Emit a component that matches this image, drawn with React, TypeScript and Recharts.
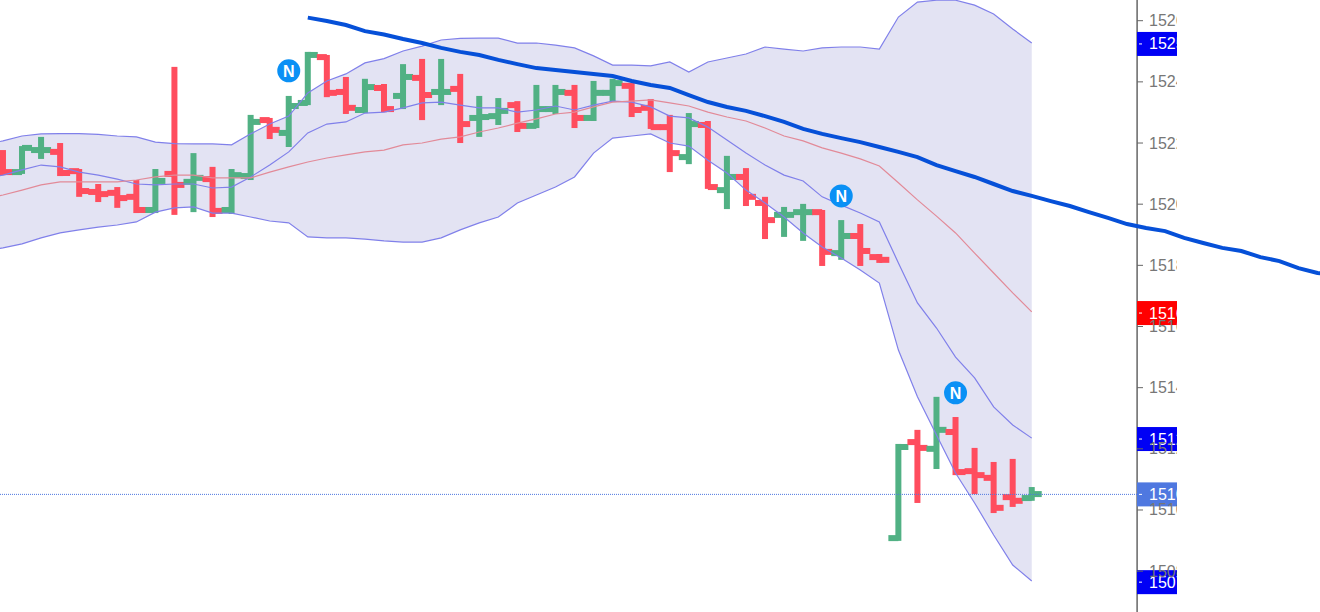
import React from "react";
import {
  Area,
  Bar,
  ComposedChart,
  Line,
  ReferenceDot,
  ReferenceLine,
  XAxis,
  YAxis,
} from "recharts";

const axisTicks = [15260, 15240, 15220, 15200, 15180, 15160, 15140, 15120, 15100, 15080];

// sessions 0..54
const opens = [
  15214.5, 15210.5, 15217.7, 15217.1, 15210.8, 15204.0, 15203.7, 15202.4, 15198.1, 15209.9, 15207.3,
  15208.2, 15198.1, 15209.2, 15227.5, 15223.3, 15233.1, 15248.1, 15236.7, 15230.8, 15238.0, 15235.4,
  15241.3, 15236.7, 15237.7, 15228.2, 15228.8, 15232.4, 15225.6, 15231.1, 15236.4, 15228.2, 15236.4,
  15238.7, 15231.5, 15225.2, 15215.4, 15225.9, 15204.6, 15208.9, 15200.4, 15196.5, 15197.4, 15197.4,
  15184.0, 15189.6, 15182.7, 15090.8, 15122.2, 15120.0, 15125.5, 15112.7, 15110.5, 15104.2, 15103.9,
];
const highs = [
  15217.7, 15219.0, 15222.0, 15220.0, 15211.5, 15206.6, 15205.6, 15207.9, 15211.5, 15244.9, 15216.7,
  15212.2, 15211.5, 15229.2, 15228.2, 15235.4, 15249.8, 15248.8, 15241.6, 15241.0, 15239.3, 15245.8,
  15247.5, 15247.5, 15242.6, 15235.4, 15234.7, 15233.7, 15239.0, 15239.0, 15239.0, 15240.3, 15241.0,
  15239.6, 15234.4, 15229.2, 15229.8, 15227.2, 15215.8, 15211.8, 15202.4, 15199.1, 15200.1, 15198.1,
  15194.8, 15193.5, 15183.7, 15121.6, 15126.2, 15137.0, 15130.4, 15120.3, 15115.7, 15116.7, 15107.5,
];
const lows = [
  15209.5, 15209.9, 15214.8, 15209.2, 15202.4, 15200.7, 15198.8, 15197.1, 15197.1, 15196.5, 15197.4,
  15195.8, 15196.8, 15207.9, 15221.3, 15218.7, 15232.4, 15235.0, 15229.5, 15229.8, 15230.1, 15231.1,
  15227.5, 15232.4, 15220.0, 15222.0, 15225.9, 15223.6, 15224.9, 15229.5, 15224.9, 15227.2, 15233.4,
  15228.5, 15224.6, 15210.5, 15213.1, 15205.0, 15198.4, 15199.4, 15188.6, 15189.3, 15188.0, 15179.8,
  15181.8, 15179.8, 15180.8, 15089.9, 15102.3, 15113.4, 15111.4, 15105.2, 15099.0, 15101.0, 15103.0,
];
const closes = [
  15210.5, 15218.4, 15217.7, 15210.2, 15204.3, 15203.3, 15202.0, 15198.1, 15207.6, 15206.3, 15208.6,
  15197.8, 15209.5, 15226.9, 15224.3, 15232.1, 15248.8, 15236.4, 15231.5, 15238.3, 15231.1, 15241.6,
  15235.7, 15236.7, 15226.2, 15228.5, 15230.5, 15225.6, 15231.1, 15236.7, 15228.2, 15236.4, 15239.6,
  15230.8, 15225.2, 15216.7, 15226.2, 15205.6, 15208.9, 15202.4, 15194.8, 15196.5, 15197.4, 15184.4,
  15189.6, 15184.7, 15181.8, 15120.6, 15120.3, 15126.2, 15112.4, 15111.4, 15100.7, 15103.0, 15105.2,
];

// bollinger lines, sessions -1..54
const outerUpper = [
  15219.4, 15220.7, 15222.3, 15223.0, 15223.1, 15223.1, 15222.8, 15222.3, 15222.0, 15220.3, 15219.8,
  15219.7, 15219.7, 15219.4, 15223.0, 15226.2, 15228.8, 15236.4, 15240.3, 15242.6, 15246.2, 15247.6,
  15250.1, 15251.7, 15253.7, 15254.2, 15254.3, 15254.3, 15252.7, 15252.7, 15252.0, 15251.1, 15248.5,
  15245.5, 15245.5, 15245.2, 15246.5, 15243.2, 15246.5, 15247.8, 15249.1, 15251.4, 15250.7, 15250.1,
  15251.1, 15251.4, 15251.4, 15250.7, 15261.2, 15266.1, 15266.7, 15266.7, 15265.1, 15262.2, 15257.3,
  15252.7,
];
const innerUpper = [
  15208.6, 15209.5, 15211.2, 15212.8, 15212.2, 15210.5, 15209.5, 15208.2, 15206.6, 15206.3, 15206.6,
  15206.6, 15205.3, 15205.6, 15208.9, 15212.8, 15217.1, 15223.3, 15226.2, 15226.9, 15229.8, 15230.1,
  15231.5, 15233.1, 15233.4, 15232.4, 15231.5, 15231.5, 15230.1, 15230.8, 15232.1, 15230.8, 15232.4,
  15233.7, 15233.4, 15231.8, 15228.8, 15228.2, 15225.2, 15221.0, 15216.7, 15212.8, 15209.5, 15207.6,
  15202.4, 15199.7, 15197.1, 15194.2, 15180.8, 15167.7, 15159.5, 15150.0, 15143.2, 15133.7, 15127.8,
  15123.5,
];
const midLine = [
  15201.7, 15203.0, 15204.6, 15206.3, 15207.3, 15207.3, 15207.3, 15207.3, 15207.9, 15208.9, 15209.5,
  15209.5, 15208.6, 15208.6, 15208.6, 15210.5, 15212.2, 15213.8, 15215.1, 15216.1, 15217.1, 15217.7,
  15219.4, 15220.0, 15221.3, 15222.0, 15223.6, 15224.9, 15226.5, 15227.9, 15229.5, 15230.1, 15231.8,
  15233.4, 15233.7, 15234.1, 15233.1, 15232.1, 15230.1, 15228.5, 15227.2, 15224.9, 15222.3, 15220.7,
  15218.4, 15216.7, 15214.8, 15212.5, 15207.0, 15201.4, 15196.1, 15190.6, 15184.0, 15177.5, 15171.0,
  15164.8,
];
const outerLower = [
  15184.7, 15185.7, 15187.0, 15189.0, 15190.6, 15191.6, 15192.5, 15193.2, 15194.2, 15197.4, 15198.8,
  15199.1, 15197.1, 15197.1, 15195.8, 15194.5, 15193.9, 15189.3, 15189.0, 15189.0, 15188.6, 15188.0,
  15187.6, 15187.6, 15189.0, 15191.6, 15193.9, 15195.8, 15200.4, 15203.0, 15205.6, 15208.9, 15216.7,
  15221.6, 15222.3, 15223.0, 15220.0, 15219.0, 15214.4, 15210.2, 15204.6, 15200.4, 15195.8, 15190.6,
  15186.0, 15182.4, 15178.5, 15174.2, 15152.3, 15137.0, 15124.5, 15112.1, 15102.3, 15091.8, 15082.0,
  15076.8,
];

// slow moving average, sessions 16..70
const slowAverage = [
  15261.0, 15259.9, 15258.6, 15256.6, 15255.5, 15254.0, 15252.7, 15251.1, 15249.8, 15248.8, 15247.2,
  15245.8, 15244.5, 15243.9, 15243.2, 15242.6, 15241.9, 15240.3, 15239.0, 15238.0, 15235.7, 15233.4,
  15231.8, 15230.5, 15228.8, 15226.9, 15224.6, 15223.0, 15221.6, 15220.3, 15218.7, 15217.1, 15215.4,
  15212.8, 15210.8, 15208.9, 15206.6, 15204.3, 15202.7, 15201.0, 15199.4, 15197.4, 15195.5, 15193.5,
  15192.2, 15191.2, 15189.0, 15187.3, 15185.7, 15184.7, 15182.7, 15181.4, 15179.1, 15177.5, 15176.8,
];

const newsSessions = [15, 44, 50];
const newsPrices = [15243.6, 15202.7, 15138.3];

const lastPrice = 15105.1;
const tagPrices = [15252.4, 15164.4, 15123.2, lastPrice, 15076.4];
const tagTexts = ["15252", "15164", "15123", "15105", "15076"];
const tagColors = ["#0000f5", "#ff0000", "#0000f5", "#4f78e0", "#0000f5"];

const sessions = Array.from({ length: 72 }, (_, n) => n - 1);
const rows = sessions.map((i) => ({
  i,
  open: opens[i],
  high: highs[i],
  low: lows[i],
  close: closes[i],
  upper: outerUpper[i + 1],
  inner: innerUpper[i + 1],
  mid: midLine[i + 1],
  lower: outerLower[i + 1],
  slow: slowAverage[i - 16],
}));

const RED = "#ff4d5e";
const GREEN = "#51b184";
const BAND_LINE = "#8080ea";
const AXIS_X = 1137;
const AXIS_SESSION = 59.53;
const X_DOMAIN = [-0.157, 69.13];
const Y_DOMAIN = [15066.64, 15266.77];

const OhlcBar = (props: any) => {
  const { x, y, width, height, payload } = props;
  if (payload.high === undefined) return null;
  const cx = x + width / 2;
  const span = payload.high - payload.low;
  const openY = y + ((payload.high - payload.open) / span) * height;
  const closeY = y + ((payload.high - payload.close) / span) * height;
  const color = payload.close >= payload.open ? GREEN : RED;
  return (
    <g fill={color}>
      <rect x={cx - 3} y={y} width={6} height={height} />
      <rect x={cx - 10} y={openY - 3} width={10} height={6} />
      <rect x={cx} y={closeY - 3} width={10} height={6} />
    </g>
  );
};

// the price scale sits inside the plot, the slow average runs on past it
const AxisTick = (props: any) => {
  const { y, payload } = props;
  return (
    <g>
      <line x1={AXIS_X} x2={AXIS_X + 6} y1={y} y2={y} stroke="#666" />
      <text
        x={AXIS_X + 12}
        y={y + 5.5}
        fill="#777"
        fontSize={16}
        fontFamily="Liberation Sans"
        clipPath="url(#axis-labels)"
      >
        {payload.value}
      </text>
    </g>
  );
};

const PriceTag = (props: any) => {
  const { viewBox, text, color } = props;
  return (
    <g>
      <rect x={AXIS_X} y={viewBox.y - 12} width={40} height={24} fill={color} />
      <line x1={AXIS_X + 2} x2={AXIS_X + 5} y1={viewBox.y} y2={viewBox.y} stroke="#fff" />
      <text
        x={AXIS_X + 12}
        y={viewBox.y + 5.5}
        fill="#fff"
        fontSize={16}
        fontFamily="Liberation Sans"
        clipPath="url(#axis-labels)"
      >
        {text}
      </text>
    </g>
  );
};

const App = () => {
  return (
    <div style={{ position: "absolute", left: 0, top: 0 }}>
      <ComposedChart
        width={1320}
        height={612}
        data={rows}
        margin={{ top: 0, right: 0, bottom: 0, left: 0 }}
      >
        <defs>
          <clipPath id="axis-labels">
            <rect x={AXIS_X} y={0} width={40} height={612} />
          </clipPath>
        </defs>
        <XAxis type="number" dataKey="i" domain={X_DOMAIN} allowDataOverflow hide />
        <YAxis
          orientation="right"
          mirror
          domain={Y_DOMAIN}
          ticks={axisTicks}
          interval={0}
          tick={<AxisTick />}
          tickLine={false}
          axisLine={false}
        />
        <ReferenceLine x={AXIS_SESSION} stroke="#666" strokeWidth={1.5} />
        <Area
          dataKey={(d: any) => (d.upper === undefined ? null : [d.lower, d.upper])}
          stroke="none"
          fill="#e3e3f3"
          fillOpacity={1}
          dot={false}
          activeDot={false}
          isAnimationActive={false}
        />
        <Line dataKey="upper" stroke={BAND_LINE} strokeWidth={1.2} dot={false} activeDot={false} isAnimationActive={false} />
        <Line dataKey="inner" stroke={BAND_LINE} strokeWidth={1.2} dot={false} activeDot={false} isAnimationActive={false} />
        <Line dataKey="lower" stroke={BAND_LINE} strokeWidth={1.2} dot={false} activeDot={false} isAnimationActive={false} />
        <Line dataKey="mid" stroke="#e28a98" strokeWidth={1.2} dot={false} activeDot={false} isAnimationActive={false} />
        <ReferenceLine
          segment={[
            { x: X_DOMAIN[0], y: lastPrice },
            { x: AXIS_SESSION, y: lastPrice },
          ]}
          stroke="#4f78e0"
          strokeDasharray="1 1"
        />
        <Bar
          dataKey={(d: any) => (d.high === undefined ? null : [d.low, d.high])}
          barSize={5}
          shape={<OhlcBar />}
          isAnimationActive={false}
        />
        <Line dataKey="slow" stroke="#0650d8" strokeWidth={4} dot={false} activeDot={false} isAnimationActive={false} />
        {tagPrices.map((price, n) => (
          <ReferenceLine
            key={price}
            y={price}
            stroke="none"
            label={<PriceTag text={tagTexts[n]} color={tagColors[n]} />}
          />
        ))}
        {newsSessions.map((session, n) => (
          <ReferenceDot
            key={session}
            x={session}
            y={newsPrices[n]}
            r={11.5}
            fill="#0a90f5"
            stroke="none"
            label={{ value: "N", position: "center", fill: "#fff", fontSize: 16, fontWeight: 700, fontFamily: "Liberation Sans" }}
          />
        ))}
      </ComposedChart>
    </div>
  );
};

export default App;
